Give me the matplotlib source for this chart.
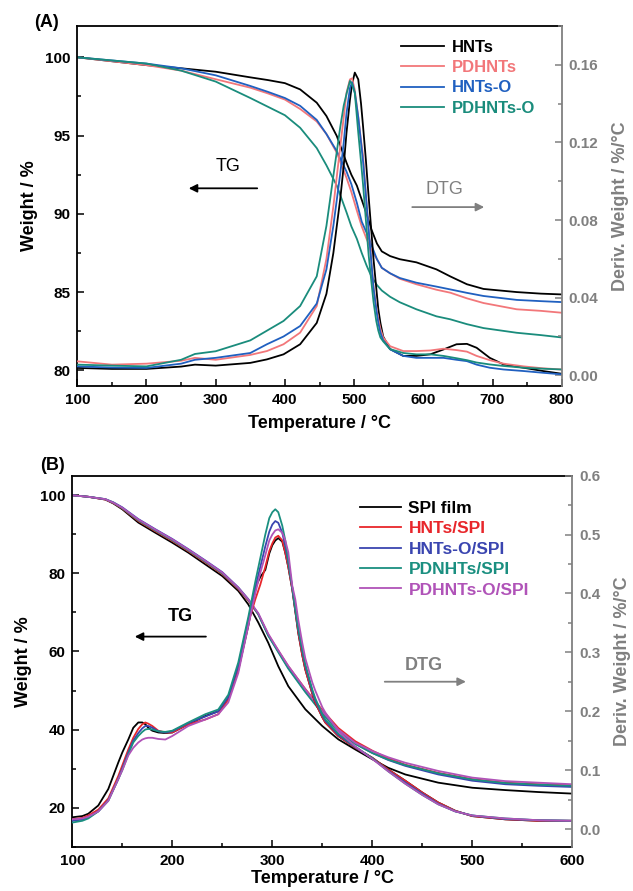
import matplotlib
matplotlib.use("Agg")
import matplotlib.pyplot as plt
from matplotlib.ticker import MultipleLocator, FormatStrFormatter

plt.rcParams['font.family'] = ['Liberation Sans', 'DejaVu Sans']
plt.rcParams['font.weight'] = 'bold'

GRAY = '#808080'

# ---------------- panel A data ----------------
tA = [100, 150, 200, 250, 300, 350, 375, 400, 422, 446, 460, 475, 489, 496, 504,
      511, 518, 525, 533, 540, 552, 566, 590, 619, 639, 663, 687, 735, 770, 800]
tg_hnts = [100.0, 99.75, 99.5, 99.3, 99.08, 98.72, 98.55, 98.35, 97.95, 97.1, 96.25, 94.97, 93.27, 92.5, 91.8,
           90.9, 90.0, 89.0, 88.1, 87.6, 87.3, 87.1, 86.9, 86.45, 86.0, 85.5, 85.2, 85.0, 84.9, 84.85]
tg_pdhnts = [100.0, 99.75, 99.5, 99.15, 98.6, 98.06, 97.7, 97.3, 96.7, 95.9, 95.1, 93.9, 92.3, 91.4, 90.2,
             89.2, 88.4, 87.7, 87.1, 86.55, 86.2, 85.85, 85.5, 85.15, 84.96, 84.6, 84.3, 83.9, 83.8, 83.68]
tg_hnts_o = [100.0, 99.8, 99.6, 99.3, 98.85, 98.17, 97.8, 97.4, 96.9, 96.0, 95.1, 94.0, 92.7, 91.9, 90.7,
             89.5, 88.8, 88.0, 87.1, 86.55, 86.2, 85.9, 85.6, 85.35, 85.17, 84.95, 84.75, 84.5, 84.42, 84.36]
tg_pdhnts_o = [100.0, 99.8, 99.6, 99.15, 98.45, 97.4, 96.85, 96.3, 95.5, 94.2, 93.1, 91.8, 90.1, 89.2, 88.4,
               87.5, 86.7, 86.0, 85.45, 85.1, 84.7, 84.35, 83.9, 83.45, 83.26, 82.95, 82.7, 82.4, 82.25, 82.1]

dA = [100, 150, 200, 250, 270, 300, 350, 374, 398, 422, 446, 460, 470, 480, 485, 489, 494, 497, 501, 506,
      510, 513, 517, 521, 525, 528, 532, 535, 538, 542, 552, 571, 590, 610, 629, 648, 663, 677, 696, 716,
      745, 773, 800]
dtg_hnts = [0.0038, 0.0033, 0.0033, 0.0045, 0.0055, 0.005, 0.0064, 0.0082, 0.0108, 0.016, 0.027, 0.042, 0.063,
            0.091, 0.108, 0.125, 0.142, 0.150, 0.156, 0.1525, 0.140, 0.128, 0.111, 0.092, 0.074, 0.060, 0.045,
            0.034, 0.027, 0.020, 0.0135, 0.010, 0.010, 0.0108, 0.0133, 0.016, 0.0162, 0.0142, 0.009, 0.0056,
            0.0039, 0.0022, 0.0008]
dtg_pdhnts = [0.0072, 0.0055, 0.006, 0.0075, 0.009, 0.008, 0.0105, 0.0125, 0.016, 0.022, 0.0357, 0.060, 0.087,
              0.118, 0.133, 0.1456, 0.1525, 0.153, 0.147, 0.133, 0.121, 0.113, 0.093, 0.075, 0.058, 0.046, 0.035,
              0.029, 0.024, 0.0195, 0.015, 0.0125, 0.0125, 0.0128, 0.0137, 0.013, 0.0122, 0.010, 0.0078, 0.006,
              0.0046, 0.0036, 0.003]
dtg_hnts_o = [0.0046, 0.004, 0.0038, 0.006, 0.008, 0.009, 0.0115, 0.016, 0.020, 0.0254, 0.037, 0.0546, 0.077,
              0.104, 0.12, 0.135, 0.148, 0.151, 0.1456, 0.133, 0.12, 0.11, 0.093, 0.075, 0.058, 0.045, 0.034,
              0.027, 0.022, 0.018, 0.0134, 0.010, 0.009, 0.009, 0.009, 0.008, 0.0073, 0.0055, 0.0039, 0.003,
              0.0022, 0.0013, 0.0005]
dtg_pdhnts_o = [0.0055, 0.005, 0.0046, 0.008, 0.011, 0.0124, 0.018, 0.023, 0.028, 0.0357, 0.051, 0.077, 0.1027,
                0.128, 0.139, 0.145, 0.1517, 0.150, 0.1456, 0.125, 0.110, 0.098, 0.080, 0.062, 0.048, 0.038,
                0.028, 0.023, 0.0195, 0.0175, 0.0135, 0.0115, 0.0108, 0.0108, 0.010, 0.0088, 0.0078, 0.0066,
                0.0056, 0.0048, 0.0039, 0.0034, 0.003]

names_A = ['HNTs', 'PDHNTs', 'HNTs-O', 'PDHNTs-O']
colors_A = ['#000000', '#f2777a', '#2060c0', '#1a8c7c']

# ---------------- panel B data ----------------
tB = [100, 116, 133, 141, 150, 166, 183, 200, 216, 233, 250, 266, 276, 286, 296, 306, 316, 333, 350, 366,
      383, 400, 416, 433, 466, 500, 533, 566, 600]
tg_spi = [100.0, 99.6, 98.9, 97.9, 96.4, 93.0, 90.4, 87.85, 85.3, 82.3, 79.3, 75.5, 72.05, 67.4, 62.2, 56.2, 51.1,
          45.2, 40.9, 37.5, 34.9, 32.4, 30.2, 28.5, 26.4, 25.1, 24.5, 24.0, 23.6]
tg_hnts_spi = [100.0, 99.6, 98.9, 98.0, 96.6, 93.4, 90.8, 88.3, 85.7, 82.8, 79.8, 76.0, 73.0, 69.5, 64.3, 60.2, 56.2,
               50.4, 45.0, 40.4, 37.0, 34.6, 32.6, 31.0, 28.9, 27.3, 26.4, 26.0, 25.7]
tg_hnts_o_spi = [100.0, 99.6, 99.0, 98.2, 96.9, 93.9, 91.3, 88.8, 86.2, 83.3, 80.3, 76.4, 73.4, 69.6, 64.1, 60.0,
                 55.8, 49.8, 44.3, 39.8, 36.4, 34.0, 32.2, 30.7, 28.5, 26.9, 26.0, 25.6, 25.3]
tg_pdnhts_spi = [100.0, 99.6, 99.0, 98.1, 96.7, 93.6, 91.0, 88.5, 85.9, 83.0, 80.0, 76.2, 73.2, 69.5, 64.0, 59.8,
                 55.6, 49.6, 44.1, 39.6, 36.3, 34.0, 32.3, 30.9, 28.8, 27.2, 26.3, 25.9, 25.6]
tg_pdhnts_o_spi = [100.0, 99.6, 99.0, 98.1, 96.8, 93.8, 91.2, 88.7, 86.1, 83.2, 80.2, 76.3, 73.3, 69.8, 64.5, 60.3,
                   56.3, 50.3, 44.7, 40.0, 36.6, 34.5, 32.9, 31.5, 29.4, 27.7, 26.8, 26.4, 26.0]

dB = [100, 110, 116, 126, 136, 146, 150, 156, 161, 166, 170, 173, 176, 180, 186, 193, 200, 216, 233, 246,
      256, 266, 276, 283, 288, 293, 297, 300, 303, 306, 310, 313, 316, 320, 323, 326, 330, 333, 340, 343,
      350, 353, 366, 383, 400, 416, 433, 450, 466, 483, 500, 533, 566, 600]
dtg_spi = [0.020, 0.022, 0.026, 0.040, 0.068, 0.113, 0.13, 0.152, 0.172, 0.181, 0.181, 0.178, 0.172, 0.167,
           0.164, 0.163, 0.164, 0.178, 0.192, 0.200, 0.222, 0.270, 0.345, 0.41, 0.428, 0.440, 0.468, 0.482,
           0.490, 0.494, 0.488, 0.469, 0.445, 0.407, 0.37, 0.333, 0.295, 0.271, 0.230, 0.215, 0.190, 0.181,
           0.158, 0.138, 0.121, 0.101, 0.082, 0.062, 0.045, 0.031, 0.022, 0.0165, 0.014, 0.014]
dtg_hnts_spi = [0.0165, 0.019, 0.023, 0.033, 0.052, 0.090, 0.108, 0.135, 0.155, 0.170, 0.178, 0.181, 0.179, 0.175,
                0.167, 0.164, 0.164, 0.178, 0.186, 0.195, 0.220, 0.271, 0.350, 0.390, 0.415, 0.445, 0.472, 0.485,
                0.495, 0.498, 0.490, 0.469, 0.445, 0.407, 0.37, 0.333, 0.295, 0.271, 0.230, 0.215, 0.190, 0.181,
                0.158, 0.138, 0.121, 0.101, 0.082, 0.062, 0.045, 0.031, 0.022, 0.0165, 0.014, 0.014]
dtg_hnts_o_spi = [0.014, 0.016, 0.020, 0.030, 0.049, 0.085, 0.103, 0.13, 0.15, 0.163, 0.171, 0.175, 0.175, 0.172,
                  0.166, 0.164, 0.166, 0.180, 0.191, 0.200, 0.224, 0.277, 0.355, 0.41, 0.445, 0.48, 0.505, 0.517,
                  0.523, 0.52, 0.503, 0.48, 0.452, 0.41, 0.373, 0.338, 0.302, 0.277, 0.234, 0.219, 0.193, 0.184,
                  0.160, 0.139, 0.120, 0.099, 0.079, 0.060, 0.043, 0.030, 0.023, 0.017, 0.015, 0.014]
dtg_pdnhts_spi = [0.011, 0.014, 0.018, 0.030, 0.048, 0.085, 0.10, 0.127, 0.147, 0.158, 0.165, 0.169, 0.170, 0.169,
                  0.166, 0.165, 0.167, 0.181, 0.195, 0.203, 0.228, 0.283, 0.36, 0.42, 0.46, 0.50, 0.528, 0.538,
                  0.543, 0.538, 0.515, 0.49, 0.455, 0.41, 0.373, 0.34, 0.305, 0.28, 0.237, 0.222, 0.195, 0.186,
                  0.162, 0.140, 0.120, 0.098, 0.077, 0.058, 0.042, 0.030, 0.023, 0.018, 0.015, 0.014]
dtg_pdhnts_o_spi = [0.0165, 0.018, 0.021, 0.03, 0.048, 0.085, 0.10, 0.125, 0.138, 0.147, 0.152, 0.154, 0.155, 0.155,
                    0.153, 0.152, 0.158, 0.175, 0.186, 0.195, 0.215, 0.265, 0.345, 0.40, 0.435, 0.465, 0.49, 0.50,
                    0.507, 0.509, 0.503, 0.49, 0.47, 0.413, 0.39, 0.355, 0.316, 0.29, 0.249, 0.235, 0.207, 0.198,
                    0.166, 0.140, 0.119, 0.098, 0.077, 0.058, 0.042, 0.030, 0.023, 0.018, 0.015, 0.014]

names_B = ['SPI film', 'HNTs/SPI', 'HNTs-O/SPI', 'PDNHTs/SPI', 'PDHNTs-O/SPI']
colors_B = ['#000000', '#e8262b', '#3a45b0', '#1a8f80', '#b053b8']


def style_axes(ax, ax2, xmaj, xmin, ymaj, ymin, y2maj, y2min, y2fmt):
    ax.xaxis.set_major_locator(MultipleLocator(xmaj))
    ax.xaxis.set_minor_locator(MultipleLocator(xmin))
    ax.yaxis.set_major_locator(MultipleLocator(ymaj))
    ax.yaxis.set_minor_locator(MultipleLocator(ymin))
    ax2.yaxis.set_major_locator(MultipleLocator(y2maj))
    ax2.yaxis.set_minor_locator(MultipleLocator(y2min))
    ax2.yaxis.set_major_formatter(FormatStrFormatter(y2fmt))
    ax.tick_params(which='both', direction='in', top=False, right=False, width=1.1, labelsize=11, pad=5)
    ax.tick_params(which='major', length=5)
    ax.tick_params(which='minor', length=3)
    ax2.tick_params(which='both', direction='in', colors=GRAY, width=1.1, labelsize=11, pad=5)
    ax2.tick_params(which='major', length=5)
    ax2.tick_params(which='minor', length=3)
    for s in ['left', 'bottom', 'top']:
        ax.spines[s].set_linewidth(1.3)
    ax.spines['right'].set_visible(False)
    for s in ['left', 'bottom', 'top']:
        ax2.spines[s].set_visible(False)
    ax2.spines['right'].set_color(GRAY)
    ax2.spines['right'].set_linewidth(1.3)
    for lab in ax.get_xticklabels() + ax.get_yticklabels():
        lab.set_fontweight('bold')
    for lab in ax2.get_yticklabels():
        lab.set_fontweight('bold')


fig = plt.figure(figsize=(6.33, 8.91), dpi=100)

# ================= panel A =================
axA = fig.add_axes([0.1221, 0.5668, 0.7653, 0.4040])
axA2 = axA.twinx()
tgA = [tg_hnts, tg_pdhnts, tg_hnts_o, tg_pdhnts_o]
dtgA = [dtg_hnts, dtg_pdhnts, dtg_hnts_o, dtg_pdhnts_o]
hA = []
for name, c, tg, dtg in zip(names_A, colors_A, tgA, dtgA):
    ln, = axA.plot(tA, tg, color=c, lw=1.3, label=name)
    axA2.plot(dA, dtg, color=c, lw=1.3)
    hA.append(ln)
axA.set_xlim(100, 800)
axA.set_ylim(79.0, 102.0)
axA2.set_ylim(-0.0055, 0.18)
style_axes(axA, axA2, 100, 50, 5, 2.5, 0.04, 0.02, '%.2f')
axA.set_xlabel('Temperature / °C', fontsize=13, fontweight='bold', labelpad=6)
axA.set_ylabel('Weight / %', fontsize=13, fontweight='bold', labelpad=5)
axA2.set_ylabel('Deriv. Weight / %/°C', fontsize=13, fontweight='bold', color=GRAY, labelpad=10)
axA2.legend(hA, names_A, loc='upper left', bbox_to_anchor=(0.668, 0.962), frameon=False,
            labelcolor='linecolor', fontsize=12, handlelength=2.6, handletextpad=0.45,
            labelspacing=0.32, borderpad=0, borderaxespad=0)
axA.text(318, 93.0, 'TG', fontsize=13, fontweight='normal', ha='center', va='center')
axA.annotate('', xy=(257, 91.63), xytext=(364, 91.63),
             arrowprops=dict(arrowstyle='-|>', color='black', lw=1.3, mutation_scale=12))
axA.text(631, 91.57, 'DTG', fontsize=13, fontweight='normal', color=GRAY, ha='center', va='center')
axA.annotate('', xy=(692, 90.43), xytext=(580, 90.43),
             arrowprops=dict(arrowstyle='-|>', color=GRAY, lw=1.3, mutation_scale=12))
fig.text(0.074, 0.975, '(A)', fontsize=13, fontweight='bold', ha='center', va='center')

# ================= panel B =================
axB = fig.add_axes([0.1142, 0.0497, 0.7899, 0.4164])
axB2 = axB.twinx()
tgB = [tg_spi, tg_hnts_spi, tg_hnts_o_spi, tg_pdnhts_spi, tg_pdhnts_o_spi]
dtgB = [dtg_spi, dtg_hnts_spi, dtg_hnts_o_spi, dtg_pdnhts_spi, dtg_pdhnts_o_spi]
hB = []
for name, c, tg, dtg in zip(names_B, colors_B, tgB, dtgB):
    ln, = axB.plot(tB, tg, color=c, lw=1.3, label=name)
    axB2.plot(dB, dtg, color=c, lw=1.3)
    hB.append(ln)
axB.set_xlim(100, 600)
axB.set_ylim(10, 105)
axB2.set_ylim(-0.03, 0.6)
style_axes(axB, axB2, 100, 50, 20, 10, 0.1, 0.05, '%.1f')
axB.set_xlabel('Temperature / °C', fontsize=13, fontweight='bold', labelpad=2)
axB.set_ylabel('Weight / %', fontsize=13, fontweight='bold', labelpad=6)
axB2.set_ylabel('Deriv. Weight / %/°C', fontsize=13, fontweight='bold', color=GRAY, labelpad=10)
axB2.legend(hB, names_B, loc='upper left', bbox_to_anchor=(0.575, 0.932), frameon=False,
            labelcolor='linecolor', fontsize=12.5, handlelength=2.4, handletextpad=0.4,
            labelspacing=0.3, borderpad=0, borderaxespad=0)
axB.text(208, 68.9, 'TG', fontsize=13, fontweight='bold', ha='center', va='center')
axB.annotate('', xy=(159.7, 63.8), xytext=(236.4, 63.8),
             arrowprops=dict(arrowstyle='-|>', color='black', lw=1.3, mutation_scale=12))
axB.text(452, 56.5, 'DTG', fontsize=13, fontweight='bold', color=GRAY, ha='center', va='center')
axB.annotate('', xy=(496.4, 52.25), xytext=(409.7, 52.25),
             arrowprops=dict(arrowstyle='-|>', color=GRAY, lw=1.3, mutation_scale=12))
fig.text(0.083, 0.477, '(B)', fontsize=13, fontweight='bold', ha='center', va='center')

fig.savefig('out.png', dpi=100)
